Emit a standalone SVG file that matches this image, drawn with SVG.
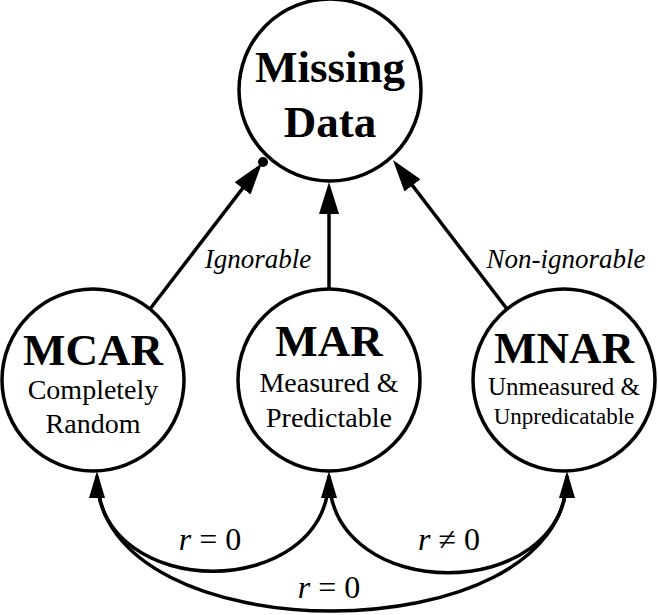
<svg xmlns="http://www.w3.org/2000/svg" width="658" height="615" viewBox="0 0 658 615">
<style>
.node{fill:#fff;stroke:#000;stroke-width:3.5}
.edge{fill:none;stroke:#000;stroke-width:3.5}
</style>
<defs>
<marker id="ah" viewBox="0 0 32 20" markerWidth="32" markerHeight="20" refX="26" refY="10" orient="auto" markerUnits="userSpaceOnUse">
<path d="M0,0 L32,10 L0,20 z" fill="#000"/>
</marker>
<marker id="ahs" viewBox="0 0 27 16" markerWidth="27" markerHeight="16" refX="22" refY="8" orient="auto-start-reverse" markerUnits="userSpaceOnUse">
<path d="M0,0 L27,8 L0,16 z" fill="#000"/>
</marker>
</defs>
<rect width="658" height="615" fill="#fff"/>
<g id="connectors">
<path class="edge" d="M150,309 L258.4,167.8" marker-end="url(#ah)"/>
<circle cx="263" cy="162" r="5" fill="#000"/>
<path class="edge" d="M329,289 L329,188" marker-end="url(#ah)"/>
<path class="edge" d="M507,309 L396.6,164.8" marker-end="url(#ah)"/>
<path class="edge" d="M329,476 C329,603 97,603 97,476" marker-start="url(#ahs)" marker-end="url(#ahs)"/>
<path class="edge" d="M329,476 C329,605 567,605 567,476" marker-end="url(#ahs)"/>
<path class="edge" d="M97,476 C97,656 567,656 567,476"/>
</g>
<g id="labels" font-family="Liberation Serif" fill="#000">
<text x="258" y="268" font-family="Liberation Serif" font-style="italic" font-size="27" text-anchor="middle">Ignorable</text>
<text x="566" y="268" font-family="Liberation Serif" font-style="italic" font-size="27" text-anchor="middle">Non-ignorable</text>
<text x="210" y="550" font-family="Liberation Serif" font-size="32" text-anchor="middle"><tspan font-style="italic">r</tspan> = 0</text>
<text x="449" y="550" font-family="Liberation Serif" font-size="32" text-anchor="middle"><tspan font-style="italic">r</tspan> &#8800; 0</text>
<text x="329" y="598" font-family="Liberation Serif" font-size="32" text-anchor="middle"><tspan font-style="italic">r</tspan> = 0</text>
</g>
<g id="missing" font-family="Liberation Serif" text-anchor="middle">
<circle class="node" cx="330" cy="90" r="91"/>
<text x="330" y="82" font-family="Liberation Serif" font-weight="bold" font-size="45">Missing</text>
<text x="330" y="137" font-family="Liberation Serif" font-weight="bold" font-size="45">Data</text>
</g>
<g id="mcar" font-family="Liberation Serif" text-anchor="middle">
<circle class="node" cx="93" cy="380" r="91"/>
<text x="93" y="365" font-family="Liberation Serif" font-weight="bold" font-size="45">MCAR</text>
<text x="93" y="399" font-family="Liberation Serif" font-size="28">Completely</text>
<text x="93" y="433" font-family="Liberation Serif" font-size="28">Random</text>
</g>
<g id="mar" font-family="Liberation Serif" text-anchor="middle">
<circle class="node" cx="329" cy="380" r="91"/>
<text x="329" y="356" font-family="Liberation Serif" font-weight="bold" font-size="45">MAR</text>
<text x="329" y="392" font-family="Liberation Serif" font-size="28">Measured &amp;</text>
<text x="329" y="427" font-family="Liberation Serif" font-size="28">Predictable</text>
</g>
<g id="mnar" font-family="Liberation Serif" text-anchor="middle">
<circle class="node" cx="564" cy="380" r="91"/>
<text x="564" y="363" font-family="Liberation Serif" font-weight="bold" font-size="45">MNAR</text>
<text x="564" y="395" font-family="Liberation Serif" font-size="25">Unmeasured &amp;</text>
<text x="564" y="424" font-family="Liberation Serif" font-size="23">Unpredicatable</text>
</g>
</svg>
